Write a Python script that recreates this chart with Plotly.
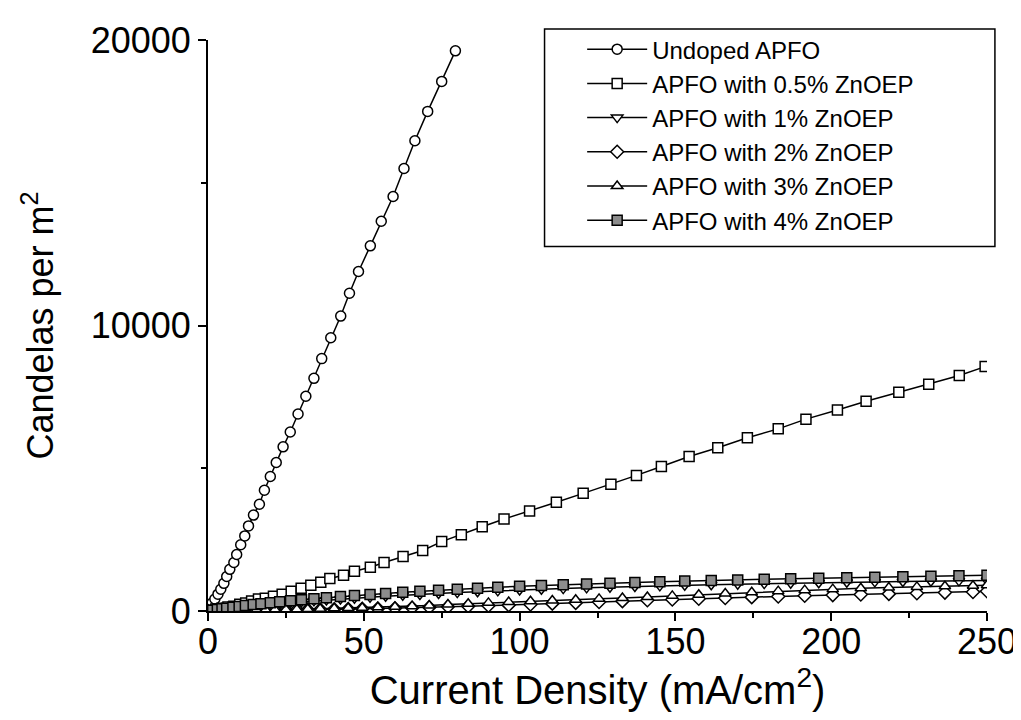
import plotly.graph_objects as go

# ---- data ----
undoped_j = [0, 0.6, 1.3, 2.2, 3.2, 4.1, 5.1, 6.0, 7.0, 8.3, 9.2, 10.5, 11.8, 13.0, 14.6, 16.5,
             18.1, 20.0, 21.9, 24.1, 26.4, 28.9, 31.4, 34.0, 36.5, 39.4, 42.6, 45.4, 48.3, 52.1,
             55.6, 59.4, 62.9, 66.4, 70.5, 75.0, 79.4]
undoped_l = [0, 140, 280, 420, 590, 760, 970, 1210, 1460, 1700, 1980, 2320, 2630, 2980, 3360, 3740,
             4230, 4710, 5200, 5750, 6270, 6900, 7520, 8150, 8840, 9570, 10330, 11130, 11890, 12790,
             13650, 14520, 15500, 16470, 17500, 18550, 19620]

p05_j = [0, 1.3, 2.5, 4.4, 6.4, 8.3, 10.2, 12.1, 14.0, 16.2, 18.4, 21.0, 23.8, 26.7, 29.9, 33.0,
         36.2, 39.1, 43.5, 47.0, 52.1, 56.5, 62.6, 68.9, 75.0, 81.3, 88.0, 95.0, 103.2, 111.8,
         120.4, 129.3, 137.5, 145.5, 154.4, 163.6, 173.1, 183.0, 191.9, 202.0, 211.2, 221.7,
         231.3, 241.1, 249.4]
p05_l = [0, 30, 70, 100, 140, 170, 240, 280, 350, 420, 450, 520, 590, 690, 800, 900,
         1010, 1140, 1250, 1390, 1530, 1700, 1910, 2120, 2430, 2670, 2950, 3220, 3500, 3810,
         4120, 4440, 4750, 5060, 5410, 5720, 6070, 6380, 6720, 7040, 7350, 7660,
         7940, 8250, 8560]

low_j = [0, 1.5, 3, 4.5, 6, 8, 10, 12, 14.5, 17, 20, 23, 26.5, 30, 34, 38, 42.5, 47, 52, 57,
         62.5, 68, 74, 80, 86.5, 93, 100, 107, 114, 121.5, 129, 137, 145, 153, 161.5, 170,
         178.5, 187, 196, 205, 214, 223, 232, 241, 250]
low_j_b = [0, 2, 3.5, 5, 7, 9, 11, 13, 15.5, 18.5, 21.5, 25, 28.5, 32, 36, 40.5, 45, 49.5, 54.5,
           60, 65.5, 71, 77, 83.5, 90, 96.5, 103.5, 110.5, 118, 125.5, 133, 141, 149, 157.5,
           166, 174.5, 183, 191.5, 200.5, 209.5, 218.5, 227.5, 236.5, 245.5, 250]

p1_l = [0, 20, 40, 60, 80, 105, 130, 155, 185, 210, 240, 265, 295, 325, 355, 385, 420, 450,
        485, 515, 550, 580, 615, 645, 675, 705, 735, 760, 785, 810, 835, 860, 880, 900, 920,
        940, 960, 975, 990, 1005, 1020, 1035, 1045, 1055, 1065]
p2_l = [0, 2, 4, 6, 8, 11, 14, 17, 21, 25, 30, 35, 41, 47, 54, 61, 69, 76, 84, 94, 110, 128,
        148, 165, 185, 205, 230, 258, 285, 315, 345, 375, 403, 430, 458, 485, 510, 535, 558,
        580, 600, 622, 645, 668, 690]
p3_l = [0, 3, 7, 10, 14, 18, 23, 28, 34, 40, 47, 54, 62, 71, 81, 92, 104, 115, 128, 145, 170,
        195, 225, 255, 285, 312, 340, 370, 395, 425, 455, 490, 530, 570, 615, 655, 695, 730,
        765, 795, 820, 845, 865, 885, 900]
p4_l = [0, 25, 50, 75, 100, 130, 160, 190, 225, 255, 290, 320, 355, 390, 430, 465, 505, 540,
        580, 615, 655, 690, 730, 765, 800, 835, 865, 895, 920, 950, 975, 1000, 1025, 1050,
        1070, 1090, 1110, 1130, 1150, 1165, 1185, 1200, 1220, 1235, 1250]

x_ticks = [0, 50, 100, 150, 200, 250]
x_tick_text = ["0", "50", "100", "150", "200", "250"]
y_ticks = [0, 10000, 20000]
y_tick_text = ["0", "10000", "20000"]

names = ["Undoped APFO", "APFO with 0.5% ZnOEP", "APFO with 1% ZnOEP",
         "APFO with 2% ZnOEP", "APFO with 3% ZnOEP", "APFO with 4% ZnOEP"]

# ---- figure ----
series = [
    (names[0], undoped_j, undoped_l, "circle", "white"),
    (names[1], p05_j, p05_l, "square", "white"),
    (names[2], low_j, p1_l, "triangle-down", "white"),
    (names[3], low_j_b, p2_l, "diamond", "white"),
    (names[4], low_j_b, p3_l, "triangle-up", "white"),
    (names[5], low_j, p4_l, "square", "#8c8c8c"),
]

fig = go.Figure()
for name, xs, ys, sym, fill in series:
    fig.add_trace(go.Scatter(
        x=xs, y=ys, name=name, mode="lines+markers",
        line=dict(color="black", width=1.5),
        marker=dict(symbol=sym, size=10, color=fill,
                    line=dict(color="black", width=1.5)),
    ))

L, R, T, B = 200, 34, 28, 117
W, H = 1021, 720
pw, ph = W - L - R, H - T - B

def px_x(p):
    return (p - L) / pw

def px_y(p):
    return (H - B - p) / ph

fig.add_shape(type="rect", xref="paper", yref="paper",
              x0=px_x(540), x1=px_x(995), y0=px_y(236), y1=px_y(17),
              line=dict(color="black", width=1.5), fillcolor="rgba(0,0,0,0)")

font_family = "Liberation Sans, Arial, sans-serif"
fig.update_layout(
    width=W, height=H,
    margin=dict(l=L, r=R, t=T, b=B),
    paper_bgcolor="white", plot_bgcolor="white",
    font=dict(family=font_family, color="black"),
    showlegend=True,
    legend=dict(x=px_x(578), y=px_y(15), xanchor="left", yanchor="top",
                bgcolor="rgba(0,0,0,0)", borderwidth=0,
                font=dict(size=24, family=font_family), itemwidth=60,
                tracegroupgap=0),
    xaxis=dict(range=[0, 250], tickvals=x_ticks, ticktext=x_tick_text, ticks="outside",
               ticklen=8, tickwidth=2, ticklabelstandoff=-10,
               tickcolor="black", showline=True, linecolor="black", linewidth=2,
               showgrid=False, zeroline=False, tickfont=dict(size=36),
               minor=dict(dtick=25, ticks="outside", ticklen=5, tickwidth=2, tickcolor="black",
                          showgrid=False),
               title=dict(text="Current Density (mA/cm<sup>2</sup>)", font=dict(size=40),
                          standoff=4)),
    yaxis=dict(range=[0, 20000], tickvals=y_ticks, ticktext=y_tick_text, ticks="outside",
               ticklen=8, tickwidth=2,
               tickcolor="black", showline=True, linecolor="black", linewidth=2,
               showgrid=False, zeroline=False, tickfont=dict(size=36),
               minor=dict(dtick=5000, ticks="outside", ticklen=5, tickwidth=2, tickcolor="black",
                          showgrid=False),
               title=dict(text="Candelas per m<sup>2</sup>", font=dict(size=36), standoff=26)),
)

fig.write_html("out.html")
